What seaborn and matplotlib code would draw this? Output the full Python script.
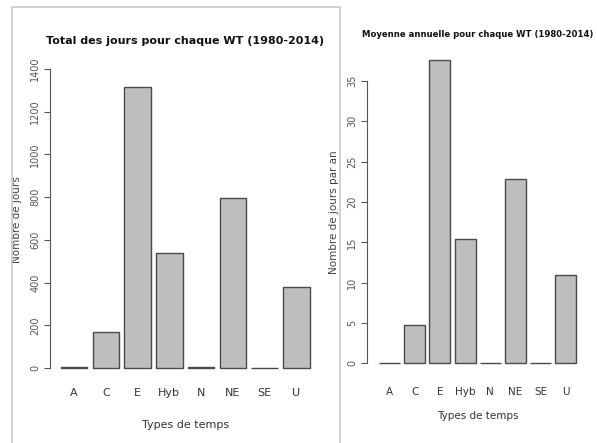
import seaborn as sns
import matplotlib.pyplot as plt
import pandas
from matplotlib.patches import Rectangle

# weather types and day counts, 1980-2014
types = ["A", "C", "E", "Hyb", "N", "NE", "SE", "U"]
total_days = [3, 168, 1314, 537, 5, 797, 2, 381]
mean_days = [0.1, 4.8, 37.6, 15.4, 0.1, 22.8, 0.1, 10.9]

df = pandas.DataFrame({"type": types, "total": total_days, "mean": mean_days})

sns.set_style("white")
plt.rcParams["font.family"] = ["DejaVu Sans"]

fig = plt.figure(figsize=(5.97, 4.43), dpi=100)

# panel frames like the pasted R screenshots
fig.patches.append(Rectangle((12 / 597, -0.01), (340 - 12) / 597, (443 - 7) / 443 + 0.01,
                             transform=fig.transFigure, fill=False,
                             edgecolor="#c8c8c8", linewidth=1.2))

ax1 = fig.add_axes([50 / 597, (443 - 375.5) / 443, 270.5 / 597, 310.8 / 443])
ax2 = fig.add_axes([367 / 597, (443 - 371.4) / 443, 221.5 / 597, 318.6 / 443])

bar_kw = dict(color="#bebebe", edgecolor="#4a4a4a", linewidth=1.0, width=0.833, saturation=1)
sns.barplot(data=df, x="type", y="total", ax=ax1, **bar_kw)
sns.barplot(data=df, x="type", y="mean", ax=ax2, **bar_kw)

ax1.set_xlim(-0.755, 7.755)
ax1.set_ylim(-35, 1420)
ax1.set_yticks(range(0, 1401, 200))
ax1.spines["left"].set_bounds(0, 1400)

ax2.set_xlim(-0.893, 7.893)
ax2.set_ylim(-1, 38.5)
ax2.set_yticks(range(0, 36, 5))
ax2.spines["left"].set_bounds(0, 35)

titles = ["Total des jours pour chaque WT (1980-2014)",
          "Moyenne annuelle pour chaque WT (1980-2014)"]
ylabels = ["Nombre de jours", "Nombre de jours par an"]
settings = [
    # title size, title pad, xtick pad, xtick size, xlabel pad
    (8.0, 15, 5.5, 8, 16),
    (6.1, 11.5, 8, 7.5, 9.7),
]
for ax, title, ylab, (tfs, tpad, xpad, xfs, lpad) in zip([ax1, ax2], titles, ylabels, settings):
    sns.despine(ax=ax, bottom=True)
    ax.spines["left"].set_color("#555555")
    ax.spines["left"].set_linewidth(0.8)
    ax.tick_params(axis="y", left=True, length=4, width=0.8, color="#555555",
                   labelsize=7, labelcolor="#555555", labelrotation=90, pad=3)
    for lab in ax.get_yticklabels():
        lab.set_verticalalignment("center")
    ax.tick_params(axis="x", bottom=False, labelsize=xfs, labelcolor="#333333", pad=xpad)
    ax.set_xlabel("Types de temps", fontsize=xfs, color="#333333", labelpad=lpad)
    ax.set_ylabel(ylab, fontsize=7.5, color="#444444", labelpad=6)
    ax.set_title(title, fontsize=tfs, fontweight="bold", color="#111111", pad=tpad)

plt.savefig("out.png", dpi=100)
